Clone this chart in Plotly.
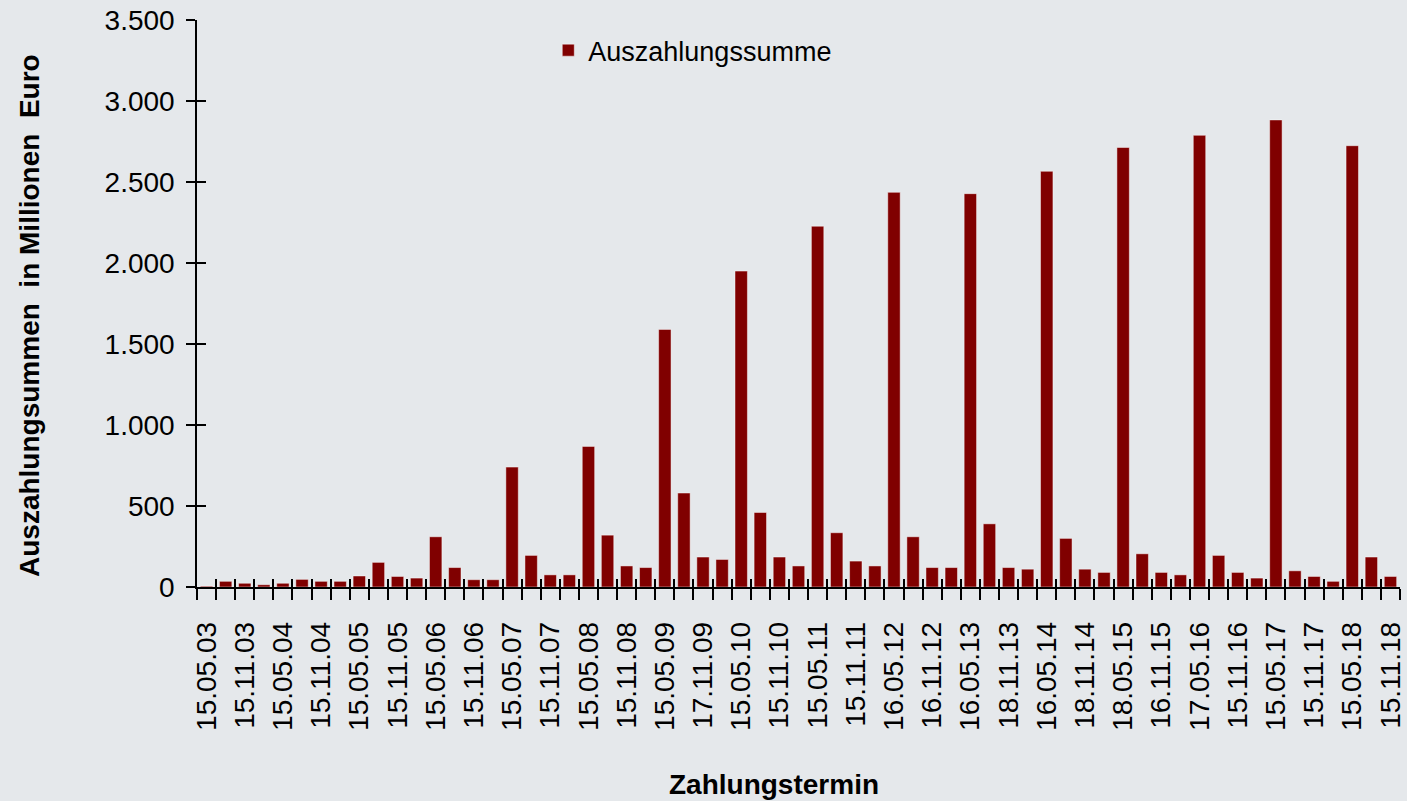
import plotly.graph_objects as go

# Payment amounts in million Euro, one value per payment date (63 dates)
values = [
    5, 35, 23, 14, 23, 47, 35, 35, 68, 152,
    65, 55, 310, 120, 45, 45, 740, 195, 75, 75,
    868, 320, 130, 120, 1590, 580, 185, 170, 1950, 460,
    185, 130, 2227, 335, 160, 130, 2436, 310, 120, 120,
    2428, 390, 120, 110, 2566, 300, 110, 90, 2713, 205,
    90, 75, 2788, 195, 90, 55, 2883, 100, 65, 35,
    2724, 185, 65,
]

# Labels shown on every second date
x_labels = [
    "15.05.03", "15.11.03", "15.05.04", "15.11.04", "15.05.05", "15.11.05",
    "15.05.06", "15.11.06", "15.05.07", "15.11.07", "15.05.08", "15.11.08",
    "15.05.09", "17.11.09", "15.05.10", "15.11.10", "15.05.11", "15.11.11",
    "16.05.12", "16.11.12", "16.05.13", "18.11.13", "16.05.14", "18.11.14",
    "18.05.15", "16.11.15", "17.05.16", "15.11.16", "15.05.17", "15.11.17",
    "15.05.18", "15.11.18",
]

y_tickvals = [0, 500, 1000, 1500, 2000, 2500, 3000, 3500]
y_ticktext = ["0", "500", "1.000", "1.500", "2.000", "2.500", "3.000", "3.500"]

series_name = "Auszahlungssumme"

n = len(values)
xs = list(range(n))
label_pos = xs[::2]
boundaries = [i - 0.5 for i in range(n + 1)]

BG = "#e5e8eb"
FONT = "Arial, Liberation Sans, sans-serif"
BAR = "#800000"

fig = go.Figure()
fig.add_trace(go.Bar(
    x=xs, y=values, name=series_name,
    marker=dict(color=BAR, line=dict(color="rgba(255,255,255,0.45)", width=1)),
    hoverinfo="y",
))
# invisible helper trace so the overlay axes (inside half of the crossing ticks) render
fig.add_trace(go.Scatter(
    x=xs, y=values, xaxis="x2", yaxis="y2", mode="markers",
    marker=dict(opacity=0), showlegend=False, hoverinfo="skip",
))

fig.update_layout(
    width=1407, height=801, autosize=False,
    margin=dict(l=197, r=7, t=20, b=214),
    paper_bgcolor=BG, plot_bgcolor=BG,
    font=dict(family=FONT, color="#000000", size=28),
    bargap=0.35,
    showlegend=True,
    legend=dict(
        x=0.292, y=0.946, xanchor="left", yanchor="middle",
        bgcolor="rgba(0,0,0,0)", font=dict(size=27, family=FONT),
    ),
    xaxis=dict(
        range=[-0.5, n - 0.5], tickmode="array", tickvals=label_pos, ticktext=x_labels,
        tickangle=-90, ticks="", showgrid=False, zeroline=False,
        showline=True, linecolor="#000000", linewidth=1.5,
        tickfont=dict(size=28, family=FONT), ticklabelstandoff=22,
        ticklabeloverflow="allow", automargin=False,
        minor=dict(tickmode="array", tickvals=boundaries, ticks="outside",
                   ticklen=11, tickwidth=1.5, tickcolor="#000000", showgrid=False),
    ),
    xaxis2=dict(
        range=[-0.5, n - 0.5], overlaying="x", anchor="y2", side="bottom",
        tickmode="array", tickvals=boundaries, ticks="inside", ticklen=8,
        tickwidth=1.5, tickcolor="#000000", showticklabels=False,
        showgrid=False, zeroline=False, showline=False, automargin=False,
    ),
    yaxis=dict(
        range=[0, 3500], tickmode="array", tickvals=y_tickvals, ticktext=y_ticktext,
        ticks="outside", ticklen=9, tickwidth=1.5, tickcolor="#000000",
        showgrid=False, zeroline=False, showline=True, linecolor="#000000", linewidth=1.5,
        tickfont=dict(size=28, family=FONT), ticklabelstandoff=6,
        ticklabeloverflow="allow", automargin=False,
    ),
    yaxis2=dict(
        range=[0, 3500], overlaying="y", anchor="x2", side="left",
        tickmode="array", tickvals=y_tickvals, ticks="inside", ticklen=9,
        tickwidth=1.5, tickcolor="#000000", showticklabels=False,
        showgrid=False, zeroline=False, showline=False, automargin=False,
    ),
    annotations=[
        dict(text="<b>Zahlungstermin</b>", xref="paper", yref="paper",
             x=0.48, y=-0.349, xanchor="center", yanchor="middle",
             showarrow=False, font=dict(size=28, family=FONT)),
        dict(text="<b>Auszahlungsummen\u00a0\u00a0in Millionen\u00a0\u00a0Euro</b>",
             xref="paper", yref="paper", x=-0.1388, y=0.478,
             xanchor="center", yanchor="middle", textangle=-90,
             showarrow=False, font=dict(size=28, family=FONT)),
    ],
)

fig.write_html(
    "out.html",
    config={"displayModeBar": False},
    post_script=(
        "document.body.style.margin='0';"
        "document.body.style.overflow='hidden';"
        "document.body.style.background='" + BG + "';"
        "document.documentElement.style.background='" + BG + "';"
    ),
)
